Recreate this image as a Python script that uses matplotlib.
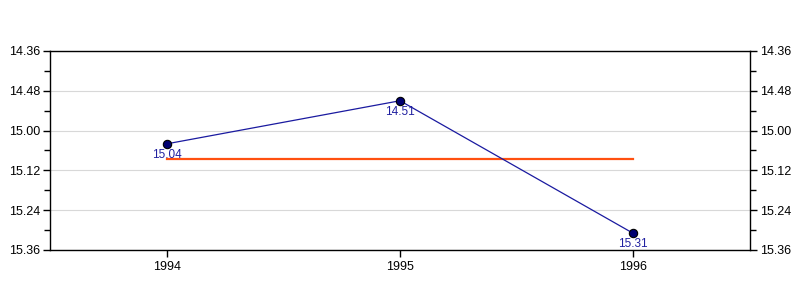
import matplotlib
matplotlib.use("Agg")
import matplotlib.pyplot as plt
import numpy as np
from matplotlib.ticker import FuncFormatter, MultipleLocator

years = [1994, 1995, 1996]
times = ["15.04", "14.51", "15.31"]  # минуты.секунды


def to_sec(t):
    m, s = t.split(".")
    return int(m) * 60 + int(s)


def fmt_sec(v, pos=None):
    v = int(round(v))
    return f"{v // 60}.{v % 60:02d}"


secs = np.array([to_sec(t) for t in times])
avg = secs.mean()

plt.rcParams['font.family'] = ['Liberation Sans', 'DejaVu Sans']
plt.rcParams['font.size'] = 9

fig = plt.figure(figsize=(8, 3), dpi=100)
ax = fig.add_axes([0.0625, 0.1667, 0.875, 0.6633])

ax.plot([years[0], years[-1]], [avg, avg], color='#ff5010', lw=1.6, zorder=2)
ax.plot(years, secs, color='#1a1aa0', lw=0.9, marker='o', ms=6,
        mfc='#000070', mec='#000000', mew=0.8, zorder=3)
for x, s, t in zip(years, secs, times):
    ax.annotate(t, (x, s), xytext=(0, -3.5), textcoords='offset points',
                ha='center', va='top', color='#2020a0', fontsize=8.5)

ax.set_xlim(1993.5, 1996.5)
ax.set_ylim(to_sec("15.36"), to_sec("14.36"))
ax.set_xticks(years)
ax.set_xticklabels([str(y) for y in years])
ax.yaxis.set_major_locator(MultipleLocator(12))
ax.yaxis.set_minor_locator(MultipleLocator(6))
ax.yaxis.set_major_formatter(FuncFormatter(fmt_sec))
ax.tick_params(axis='y', which='both', left=True, right=True,
               labelleft=True, labelright=True, direction='out')
ax.tick_params(axis='y', which='major', length=5, width=1, pad=2)
ax.tick_params(axis='y', which='minor', length=4, width=1)
ax.tick_params(axis='x', length=5, width=1, pad=3)
ax.grid(axis='y', color='#d8d8d8', lw=0.8)
ax.set_axisbelow(True)
for spine in ax.spines.values():
    spine.set_color('black')
    spine.set_linewidth(1)

fig.savefig('out.png', dpi=100)
